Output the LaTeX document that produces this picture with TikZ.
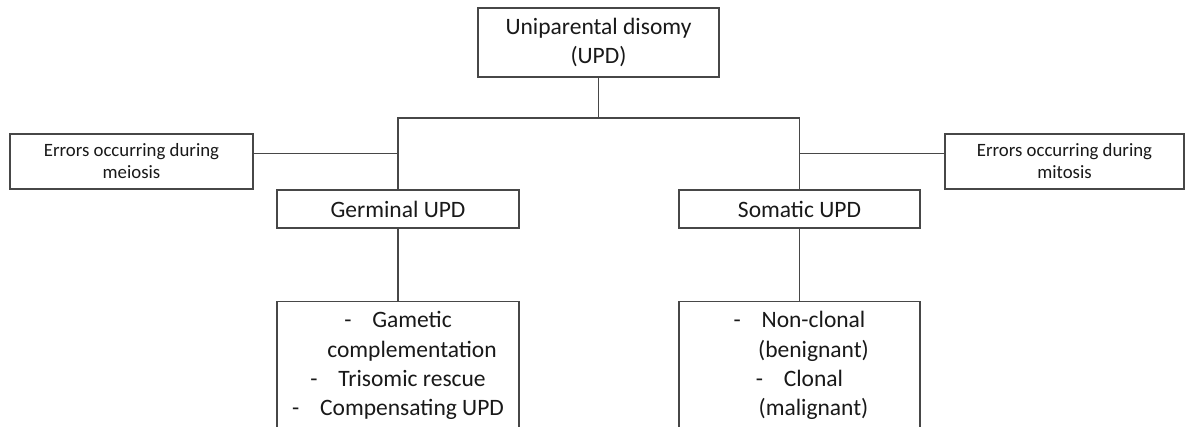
\documentclass[tikz,border=0pt]{standalone}
\usepackage{fontspec}
\setmainfont{Carlito}
\begin{document}
\begin{tikzpicture}[x=1pt,y=1pt,
  box/.style={draw=black!72, line width=1.1pt, rectangle, inner sep=0pt, align=center, text=black!90},
  big/.style={font=\fontsize{23.5}{28.5}\selectfont},
  list/.style={font=\fontsize{23.5}{29.3}\selectfont},
  small/.style={font=\fontsize{18.8}{22}\selectfont},
  conn/.style={draw=black!72, line width=1.1pt}]
\useasboundingbox (0,0) rectangle (1186,-426);
\fill[white] (0,0) rectangle (1186,-426);
\newcommand{\dashitem}[1]{\makebox[28pt][l]{-}#1}
\newcommand{\contitem}[1]{\hspace*{28pt}#1}
% top
\node[box,big,minimum width=241pt,minimum height=69pt] (top) at (598.5,-42.5) {Uniparental disomy\\(UPD)};
% side boxes
\node[box,small,minimum width=243pt,minimum height=55pt] (meio) at (131.5,-161.5) {Errors occurring during\\meiosis};
\node[box,small,minimum width=239pt,minimum height=55pt] (mito) at (1064.5,-161.5) {Errors occurring during\\mitosis};
% middle
\node[box,big,minimum width=242pt,minimum height=38pt] (germ) at (398,-209) {Germinal UPD};
\node[box,big,minimum width=241pt,minimum height=38pt] (som) at (799.5,-209) {Somatic UPD};
% bottom
\node[box,list,minimum width=242pt,minimum height=128pt,anchor=north] (gl) at (398,-301)
  {\dashitem{Gametic}\\\contitem{complementation}\\\dashitem{Trisomic rescue}\\\dashitem{Compensating UPD}};
\node[box,list,minimum width=241pt,minimum height=128pt,anchor=north] (sl) at (799.5,-301)
  {\dashitem{Non-clonal}\\\contitem{(benignant)}\\\dashitem{Clonal}\\\contitem{(malignant)}};
% connectors
\coordinate (j) at (598.5,-118);
\draw[conn] (top.south) -- (j);
\draw[conn] (germ.north) |- (j) -| (som.north);
\draw[conn] ([yshift=-20pt]meio.north east) -- ([yshift=-20pt]meio.north east -| germ.north);
\draw[conn] ([yshift=-20pt]mito.north west) -- ([yshift=-20pt]mito.north west -| som.north);
\draw[conn] (germ.south) -- (gl.north);
\draw[conn] (som.south) -- (sl.north);
\end{tikzpicture}
\end{document}
